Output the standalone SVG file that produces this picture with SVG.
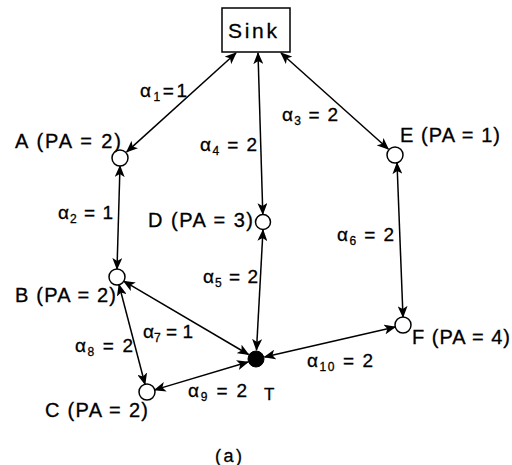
<svg xmlns="http://www.w3.org/2000/svg" width="512" height="465" viewBox="0 0 512 465">
<style>
.n{fill:#fff;stroke:#000;stroke-width:1.5}
.t{fill:#000;stroke:#000;stroke-width:1}
.e{stroke:#000;stroke-width:1.5;fill:none;marker-start:url(#ah);marker-end:url(#ah)}
text{font-family:"Liberation Sans",Arial,sans-serif;font-size:20px;fill:#000;stroke:#000;stroke-width:0.3}
.a{font-size:19px}
.s{font-size:12px}
</style>
<defs>
<marker id="ah" markerUnits="userSpaceOnUse" markerWidth="12" markerHeight="10" refX="11" refY="5" orient="auto-start-reverse" viewBox="0 0 12 10">
<path d="M0,0 L12,5 L0,10 L3,5 Z" fill="#000"/>
</marker>
</defs>
<rect width="512" height="465" fill="#fff"/>
<g id="connectors">
<line class="e" x1="236" y1="53" x2="126.7" y2="151.9"/>
<line class="e" x1="258" y1="53" x2="262.8" y2="214"/>
<line class="e" x1="281" y1="53" x2="388.3" y2="149"/>
<line class="e" x1="120" y1="166" x2="117" y2="269"/>
<line class="e" x1="263" y1="230" x2="256.5" y2="350"/>
<line class="e" x1="397" y1="163" x2="403" y2="317"/>
<line class="e" x1="123.8" y1="281.2" x2="248.5" y2="354.5"/>
<line class="e" x1="119" y1="284.7" x2="145" y2="384.3"/>
<line class="e" x1="154.7" y1="389.9" x2="248" y2="362"/>
<line class="e" x1="264.5" y1="357" x2="395.2" y2="327"/>
</g>
<g id="labels">
<text class="a" x="140" y="97" textLength="47">α<tspan class="s" dy="4">1</tspan><tspan dy="-4">=1</tspan></text>
<text class="a" x="58" y="219" textLength="55">α<tspan class="s" dy="4">2</tspan><tspan dy="-4"> = 1</tspan></text>
<text class="a" x="282" y="121" textLength="56">α<tspan class="s" dy="4">3</tspan><tspan dy="-4"> = 2</tspan></text>
<text class="a" x="200" y="151" textLength="57">α<tspan class="s" dy="4">4</tspan><tspan dy="-4"> = 2</tspan></text>
<text class="a" x="203" y="283" textLength="55">α<tspan class="s" dy="4">5</tspan><tspan dy="-4"> = 2</tspan></text>
<text class="a" x="337" y="241" textLength="57">α<tspan class="s" dy="4">6</tspan><tspan dy="-4"> = 2</tspan></text>
<text class="a" x="143" y="338" textLength="50">α<tspan class="s" dy="4">7</tspan><tspan dy="-4"> = 1</tspan></text>
<text class="a" x="75" y="352" textLength="58">α<tspan class="s" dy="4">8</tspan><tspan dy="-4"> = 2</tspan></text>
<text class="a" x="188" y="397" textLength="59">α<tspan class="s" dy="4">9</tspan><tspan dy="-4"> = 2</tspan></text>
<text class="a" x="307" y="367" textLength="66">α<tspan class="s" dy="4">10</tspan><tspan dy="-4"> = 2</tspan></text>
<text x="215" y="462" textLength="27" style="font-size:18px">(a)</text>
</g>
<g id="Sink">
<rect x="222" y="8" width="68" height="44" fill="#fff" stroke="#000" stroke-width="1.5"/>
<text x="228" y="38" style="font-size:21px" textLength="49">Sink</text>
</g>
<g id="A">
<circle class="n" cx="120" cy="158" r="8"/>
<text x="15" y="148" textLength="106">A (PA = 2)</text>
</g>
<g id="D">
<circle class="n" cx="263" cy="222" r="7.5"/>
<text x="148" y="227" textLength="105">D (PA = 3)</text>
</g>
<g id="E">
<circle class="n" cx="395" cy="155" r="8"/>
<text x="400" y="142" textLength="100">E (PA = 1)</text>
</g>
<g id="B">
<circle class="n" cx="117" cy="277" r="8"/>
<text x="15" y="302" textLength="101">B (PA = 2)</text>
</g>
<g id="C">
<circle class="n" cx="147" cy="392" r="8"/>
<text x="45" y="417" textLength="103">C (PA = 2)</text>
</g>
<g id="F">
<circle class="n" cx="403" cy="325" r="8"/>
<text x="412" y="344" textLength="98">F (PA = 4)</text>
</g>
<g id="T">
<circle class="t" cx="256" cy="359" r="8"/>
<text x="264" y="400" style="font-size:17px">T</text>
</g>
</svg>
